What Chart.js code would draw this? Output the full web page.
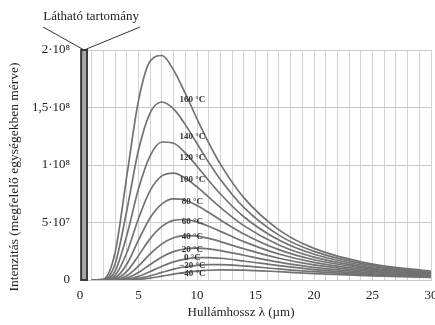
<!DOCTYPE html>
<html><head><meta charset="utf-8">
<script src="https://cdn.jsdelivr.net/npm/chart.js@4"></script>
<style>html,body{margin:0;padding:0;background:#fff}#wrap{width:435px;height:325px;position:relative}</style>
</head><body><div id="wrap"><canvas id="c" width="435" height="325"></canvas></div>
<script>
// wavelength (µm)
const wavelengths = [1, 2, 3, 4, 5, 6, 7, 8, 9, 10, 11, 12, 14, 17, 20, 25, 30];
// intensity, in units of 10^6
const t160 = [0, 0.7, 23.9, 90.4, 156.0, 190.4, 195.2, 182.5, 162.2, 140.2, 119.3, 100.8, 71.6, 43.6, 27.5, 13.8, 7.6];
const t140 = [0, 0.3, 14.0, 60.4, 113.1, 145.4, 154.8, 148.8, 135.1, 118.7, 102.3, 87.4, 63.1, 39.0, 24.9, 12.7, 7.0];
const t120 = [0, 0.1, 7.7, 38.8, 79.3, 108.1, 120.0, 118.9, 110.5, 98.9, 86.5, 74.8, 55.0, 34.7, 22.4, 11.5, 6.5];
const t100 = [0, 0.05, 4.0, 23.7, 53.5, 77.9, 90.5, 92.9, 88.6, 80.9, 72.0, 63.1, 47.3, 30.4, 19.9, 10.4, 5.9];
const t80 = [0, 0, 1.9, 13.7, 34.6, 54.1, 66.2, 70.5, 69.3, 64.7, 58.7, 52.2, 40.1, 26.4, 17.6, 9.4, 5.3];
const t60 = [0, 0, 0.9, 7.5, 21.2, 36.0, 46.6, 51.9, 52.6, 50.5, 46.7, 42.3, 33.4, 22.6, 15.3, 8.3, 4.8];
const t40 = [0, 0, 0.3, 3.7, 12.2, 22.7, 31.4, 36.7, 38.6, 38.2, 36.2, 33.4, 27.2, 18.9, 13.1, 7.3, 4.3];
const t20 = [0, 0, 0.1, 1.7, 6.5, 13.5, 20.1, 24.7, 27.2, 27.8, 27.1, 25.6, 21.5, 15.6, 11.0, 6.3, 3.7];
const t0 = [0, 0, 0, 0.7, 3.2, 7.4, 12.0, 15.8, 18.2, 19.4, 19.5, 18.9, 16.5, 12.5, 9.1, 5.3, 3.2];
const tm20 = [0, 0, 0, 0.2, 1.4, 3.7, 6.6, 9.4, 11.5, 12.8, 13.3, 13.3, 12.2, 9.6, 7.2, 4.4, 2.7];
const tm40 = [0, 0, 0, 0.1, 0.5, 1.6, 3.3, 5.1, 6.7, 7.8, 8.5, 8.8, 8.6, 7.2, 5.6, 3.6, 2.3];

const seriesNames = ['160 °C', '140 °C', '120 °C', '100 °C', '80 °C', '60 °C', '40 °C', '20 °C', '0 °C', '−20 °C', '−40 °C'];
const seriesValues = [t160, t140, t120, t100, t80, t60, t40, t20, t0, tm20, tm40];
// where each curve label sits (intensity, 10^6) at the label wavelength
const labelWavelength = 9.6;
const labelValues = [156.5, 124.3, 106, 87, 67.8, 50.4, 37.4, 26.1, 19.1, 12.2, 5.2];

const yTickValues = [0, 50, 100, 150, 200];
const yTickLabels = ['0', '5·10⁷', '1·10⁸', '1,5·10⁸', '2·10⁸'];
const xTickStep = 5;
const visibleRange = [0.1, 0.6];
const visibleLabel = 'Látható tartomány';
const yTitle = 'Intenzitás (megfelelő egységekben mérve)';
const xTitle = 'Hullámhossz λ (µm)';

const SERIF = '"Liberation Serif", "DejaVu Serif", serif';

const datasets = seriesValues.map((vals, k) => ({
  label: seriesNames[k],
  data: wavelengths.map((x, i) => ({x: x, y: vals[i]})),
  borderColor: '#727272',
  borderWidth: 1.7,
  pointRadius: 0,
  fill: false,
  cubicInterpolationMode: 'monotone'
}));

const extras = {
  id: 'extras',
  beforeDatasetsDraw(chart) {
    const {ctx, scales: {x, y}} = chart;
    const x0 = x.getPixelForValue(visibleRange[0]);
    const x1 = x.getPixelForValue(visibleRange[1]);
    const yt = y.getPixelForValue(200);
    const yb = y.getPixelForValue(0);
    ctx.save();
    ctx.fillStyle = '#a8a8a8';
    ctx.fillRect(x0, yt, x1 - x0, yb - yt);
    ctx.strokeStyle = '#3c3c3c';
    ctx.lineWidth = 2;
    ctx.strokeRect(x0, yt, x1 - x0, yb - yt);
    ctx.restore();
  },
  afterDatasetsDraw(chart) {
    const {ctx, scales: {x, y}} = chart;
    ctx.save();
    ctx.font = 'bold 9px ' + SERIF;
    ctx.fillStyle = '#333';
    ctx.textAlign = 'center';
    ctx.textBaseline = 'middle';
    const lx = x.getPixelForValue(labelWavelength);
    seriesNames.forEach((n, i) => {
      ctx.fillText(n, lx, y.getPixelForValue(labelValues[i]));
    });
    // visible range annotation
    const xc = (x.getPixelForValue(visibleRange[0]) + x.getPixelForValue(visibleRange[1])) / 2;
    const yt = y.getPixelForValue(200);
    ctx.strokeStyle = '#333';
    ctx.lineWidth = 1;
    ctx.beginPath();
    ctx.moveTo(xc - 41, yt - 23);
    ctx.lineTo(xc, yt);
    ctx.lineTo(xc + 56, yt - 23);
    ctx.stroke();
    ctx.font = '13px ' + SERIF;
    ctx.fillStyle = '#222';
    ctx.fillText(visibleLabel, xc + 7, yt - 33);
    // axis titles
    ctx.font = '13px ' + SERIF;
    ctx.fillText(xTitle, 241, 313);
    ctx.font = '13.5px ' + SERIF;
    ctx.translate(14, 177);
    ctx.rotate(-Math.PI / 2);
    ctx.fillText(yTitle, 0, 0);
    ctx.restore();
  }
};

new Chart(document.getElementById('c'), {
  type: 'line',
  data: {datasets},
  options: {
    responsive: false,
    animation: false,
    devicePixelRatio: 1,
    layout: {padding: {top: 50, right: 4, left: 0, bottom: 0}},
    plugins: {legend: {display: false}, tooltip: {enabled: false}},
    scales: {
      x: {
        type: 'linear', min: 0, max: 30,
        grid: {color: '#d4d4d4', lineWidth: 1, drawTicks: false},
        border: {color: '#c8c8c8'},
        ticks: {
          stepSize: 1, autoSkip: false, maxRotation: 0, padding: 8,
          font: {family: SERIF, size: 13}, color: '#222',
          callback: v => (v % xTickStep === 0 ? String(v) : '')
        },
        afterFit: s => { s.height = 45; s.paddingLeft = 0; s.paddingRight = 0; }
      },
      y: {
        min: 0, max: 200,
        grid: {color: '#c8c8c8', lineWidth: 1, drawTicks: false},
        border: {color: '#c8c8c8'},
        ticks: {
          stepSize: 50, padding: 10,
          font: {family: SERIF, size: 13}, color: '#222',
          callback: v => { const i = yTickValues.indexOf(v); return i >= 0 ? yTickLabels[i] : ''; }
        },
        afterFit: s => { s.width = 80; }
      }
    }
  },
  plugins: [extras]
});
</script></body></html>
